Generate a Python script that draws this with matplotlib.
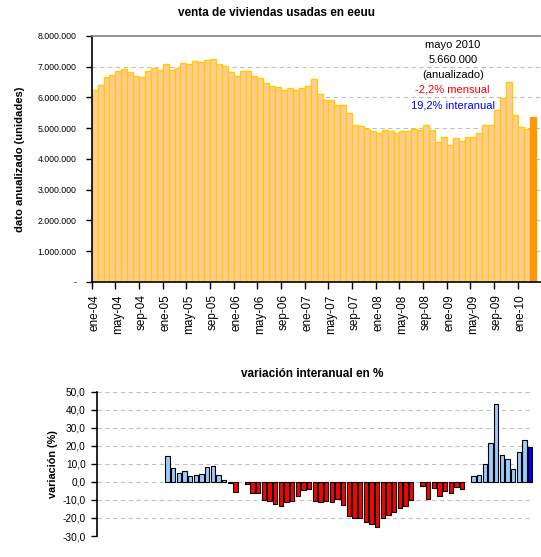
import matplotlib
matplotlib.use("Agg")
import matplotlib.pyplot as plt
import numpy as np

plt.rcParams['font.family'] = ['Liberation Sans', 'DejaVu Sans']

# ventas anualizadas (millones), ene-04 .. mar-10
ventas = [6.23, 6.40, 6.66, 6.72, 6.85, 6.92, 6.82, 6.69, 6.66, 6.85, 6.95, 6.88,
          7.08, 6.88, 6.95, 7.11, 7.08, 7.18, 7.14, 7.21, 7.24, 7.08, 7.01, 6.82,
          6.69, 6.85, 6.85, 6.69, 6.62, 6.46, 6.36, 6.33, 6.26, 6.30, 6.26, 6.30,
          6.36, 6.59, 6.10, 5.91, 5.91, 5.74, 5.74, 5.48, 5.10, 5.06, 4.99, 4.90,
          4.86, 4.93, 4.90, 4.83, 4.90, 4.90, 4.96, 4.93, 5.10, 4.93, 4.54, 4.73,
          4.47, 4.67, 4.60, 4.70, 4.73, 4.86, 5.12, 5.09, 5.58, 5.97, 6.49, 5.42,
          5.03, 4.99, 5.35]

meses = ['ene', 'feb', 'mar', 'abr', 'may', 'jun', 'jul', 'ago', 'sep', 'oct', 'nov', 'dic']
etiquetas = ['%s-%02d' % (meses[i % 12], 4 + i // 12) for i in range(len(ventas))]

# variacion interanual (%), ene-04 .. may-10 (None = sin dato)
interanual = [None] * 12 + [
    14.4, 7.8, 5.0, 6.1, 3.3, 3.9, 4.4, 8.3, 8.9, 3.9, 1.1, -0.6,
    -5.7, None, -1.1, -6.1, -6.1, -10.0, -10.6, -12.2, -13.3, -11.1, -10.6, -7.8,
    -4.4, -3.9, -10.6, -11.1, -10.6, -11.1, -9.4, -12.8, -18.9, -20.0, -20.0, -22.2,
    -23.3, -25.0, -20.0, -18.3, -16.7, -14.4, -13.3, -10.0, None, -2.2, -9.4, -3.3,
    -7.8, -5.0, -6.1, -2.8, -3.9, None, 3.3, 3.9, 10.0, 21.7, 43.3, 14.8,
    12.8, 7.2, 16.7, 23.3, 19.2]

W, H = 541, 557
fig = plt.figure(figsize=(W / 100, H / 100), dpi=100)
fig.patch.set_facecolor('white')

def box(l, t, r, b):
    return [l / W, 1 - b / H, (r - l) / W, (b - t) / H]

# ---------- grafico de arriba ----------
ax = fig.add_axes(box(91.7, 36, 540, 282))
n = len(ventas)
x = np.arange(n)
vals = np.array(ventas) * 1e6
cols = ['#FFCC99'] * (n - 1) + ['#FF9900']
edges = ['#FFCC00'] * (n - 1) + ['#FF9900']
ax.bar(x, vals, width=1.0, color=cols, edgecolor=edges, linewidth=1.0, zorder=2)
ax.set_xlim(-0.5, n - 0.5 + 0.75)
ax.set_ylim(0, 8e6)
yt = np.arange(0, 8e6 + 1, 1e6)
ax.set_yticks(yt)
ax.set_yticklabels(['-'] + ['{:,.0f}'.format(v).replace(',', '.') for v in yt[1:]], fontsize=6.3)
for v in yt[1:-1]:
    ax.axhline(v, color='#C0C0C0', lw=0.8, ls=(0, (4, 3)), zorder=1)
ax.set_xticks(np.arange(-0.5, n, 4), minor=False)
ax.set_xticklabels([])
ax.set_xticks(np.arange(0, n, 4), minor=True)
ax.set_xticklabels([etiquetas[i] for i in range(0, n, 4)], minor=True, rotation=90, fontsize=8.5)
ax.tick_params(axis='x', which='minor', length=0, pad=9)
ax.tick_params(axis='x', which='major', length=5, width=1, direction='out')
ax.tick_params(axis='y', length=4, width=1, direction='out', pad=7)
ax.spines['right'].set_visible(False)
ax.spines['top'].set_color('#808080')
ax.spines['top'].set_linewidth(1.2)
ax.spines['left'].set_linewidth(1.2)
ax.spines['bottom'].set_linewidth(1.2)
ax.set_ylabel('dato anualizado (unidades)', fontsize=8.1, fontweight='bold')
ax.yaxis.set_label_coords(-0.148, 0.5)

tx = 452.7 / W
fig.text(tx, 1 - 45 / H, 'mayo 2010', ha='center', va='center', fontsize=8)
fig.text(tx, 1 - 60 / H, '5.660.000', ha='center', va='center', fontsize=8)
fig.text(tx, 1 - 75 / H, '(anualizado)', ha='center', va='center', fontsize=8)
fig.text(tx, 1 - 90 / H, '-2,2% mensual', ha='center', va='center', fontsize=8, color='red')
fig.text(tx, 1 - 105 / H, '19,2% interanual', ha='center', va='center', fontsize=8, color='blue')

fig.text(276.7 / W, 1 - 13 / H, 'venta de viviendas usadas en eeuu', ha='center', va='center',
         fontsize=8.5, fontweight='bold')

# ---------- grafico de abajo ----------
ax2 = fig.add_axes(box(96.7, 391.7, 533, 536))
m = len(interanual)
x2 = np.arange(m)
iv = np.array([np.nan if v is None else v for v in interanual])
c2 = []
for i, v in enumerate(iv):
    if i == m - 1:
        c2.append('#0000FF')
    elif v >= 0:
        c2.append('#99CCFF')
    else:
        c2.append('#FF0000')
ok = ~np.isnan(iv)
ax2.bar(x2[ok], iv[ok], width=0.75, color=np.array(c2)[ok], edgecolor='black', linewidth=0.8, zorder=2)
ax2.set_xlim(-0.5, m - 0.5)
ax2.set_ylim(-30, 50)
yt2 = np.arange(-30, 51, 10)
ax2.set_yticks(yt2)
ax2.set_yticklabels([('%.1f' % v).replace('.', ',') for v in yt2], fontsize=7.3)
for v in yt2:
    ax2.axhline(v, color='#C0C0C0', lw=0.8, ls=(0, (4, 3)), zorder=1)
ax2.set_xticks([])
for s in ['top', 'right', 'bottom']:
    ax2.spines[s].set_visible(False)
ax2.spines['left'].set_linewidth(1.2)
ax2.tick_params(axis='y', length=4, width=1, direction='out', pad=4)
ax2.set_ylabel('variación (%)', fontsize=7.8, fontweight='bold')
ax2.yaxis.set_label_coords(-0.0876, 0.5)

fig.text(311.7 / W, 1 - 374 / H, 'variación interanual en %', ha='center', va='center',
         fontsize=8.5, fontweight='bold')

fig.savefig('out.png', dpi=100, facecolor='white')
